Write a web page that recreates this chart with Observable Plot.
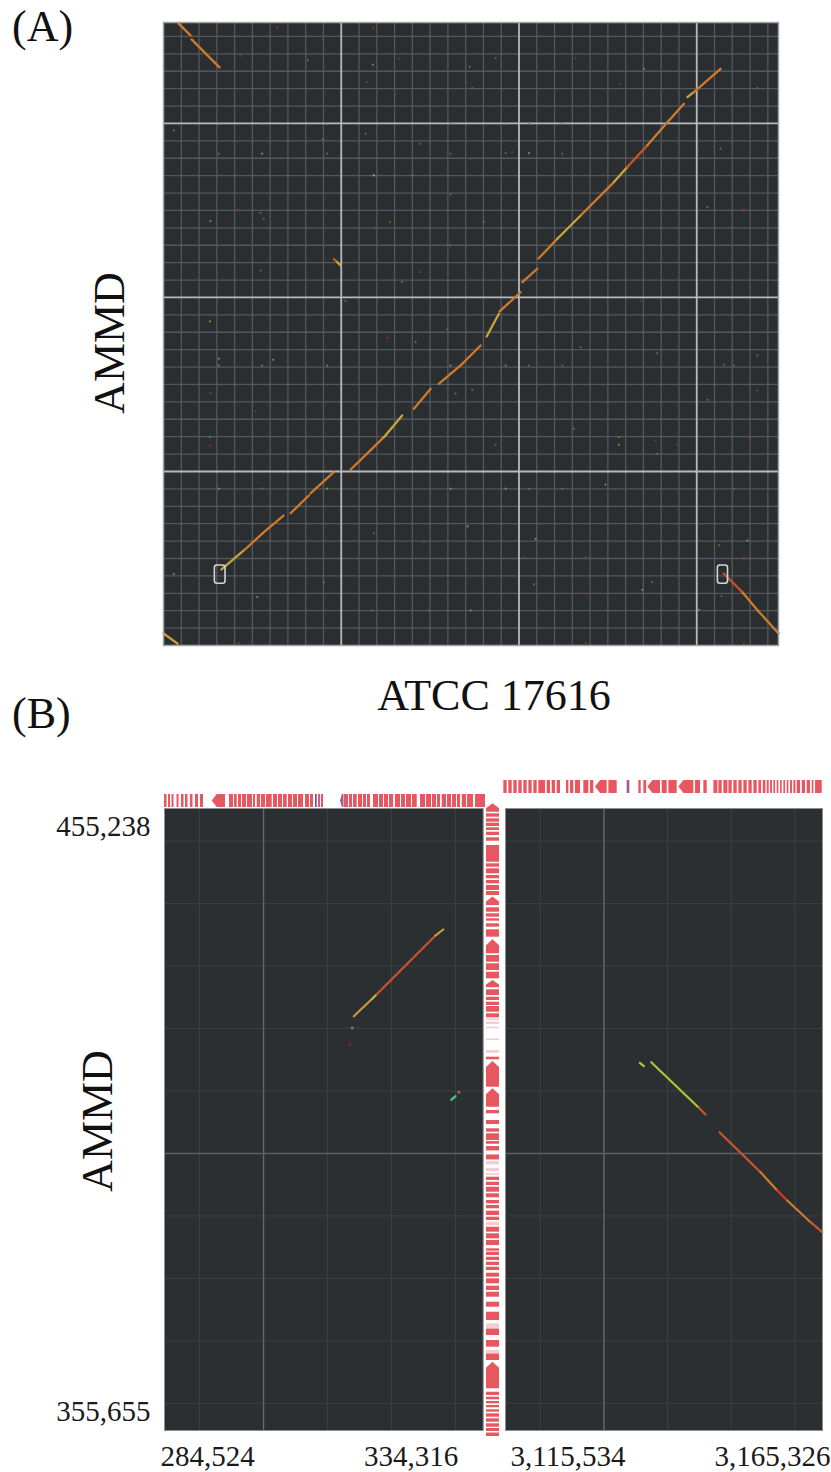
<!DOCTYPE html>
<html><head><meta charset="utf-8">
<script src="https://cdn.jsdelivr.net/npm/d3@7"></script>
<script src="https://cdn.jsdelivr.net/npm/@observablehq/plot@0.6"></script>
<style>
html,body{margin:0;padding:0;background:#fff;}
#fig{position:relative;width:831px;height:1472px;overflow:hidden;font-family:"Liberation Serif","Times New Roman",serif;}
#fig svg{position:absolute;left:0;top:0;}
.lbl{position:absolute;font-size:44px;line-height:1;white-space:nowrap;color:#111;}
</style></head><body><div id="fig"></div>
<script>
// ---------------- Panel A : whole-chromosome dot plot (Mb) ----------------
const aXDomain = [0, 3.46];   // ATCC 17616
const aYDomain = [0, 3.58];   // AMMD
const aXLabel = "ATCC 17616";
const aYLabel = "AMMD";
// alignments [x1, y1, x2, y2, colour key]
const aSegments = [
  [0.084,3.575,0.152,3.506,"o"],[0.158,3.483,0.315,3.322,"o"],
  [0.000,0.069,0.079,0.011,"y"],
  [3.151,0.414,3.258,0.305,"r"],[3.258,0.305,3.343,0.201,"o"],[3.343,0.201,3.461,0.069,"o"],
  [0.958,2.222,0.977,2.203,"r"],[0.977,2.203,0.996,2.184,"y"],
  [0.326,0.437,0.452,0.546,"y"],[0.452,0.546,0.557,0.644,"o"],[0.557,0.644,0.675,0.747,"o"],
  [0.715,0.760,0.818,0.862,"o"],[0.827,0.874,0.958,0.996,"o"],
  [1.052,1.010,1.240,1.197,"o"],[1.240,1.197,1.343,1.322,"y"],
  [1.409,1.360,1.503,1.475,"o"],
  [1.549,1.504,1.681,1.619,"o"],[1.681,1.619,1.784,1.724,"o"],
  [1.818,1.776,1.887,1.906,"y"],[1.891,1.920,2.009,2.030,"o"],[2.019,2.088,2.103,2.165,"o"],
  [2.110,2.224,2.216,2.337,"o"],[2.216,2.337,2.347,2.471,"y"],[2.347,2.471,2.534,2.663,"o"],
  [2.534,2.663,2.609,2.749,"y"],[2.609,2.749,2.722,2.874,"r"],[2.722,2.874,2.835,3.007,"o"],
  [2.835,3.007,2.928,3.113,"o"],
  [2.947,3.151,2.984,3.180,"y"],[2.984,3.180,3.134,3.314,"o"]
];
// short matches [x, y, colour key]
const aDots = [
  [0.311,2.998,"y"],[0.555,2.998,"y"],[0.921,2.998,"y"],[1.615,2.998,"o"],
  [0.311,2.826,"g"],[0.555,2.826,"y"],[0.921,2.826,"g"],[1.615,2.826,"o"],
  [0.058,2.960,"g"],[1.183,2.701,"Y"],[1.446,2.883,"g"],[1.737,3.203,"g"],[1.722,3.324,"o"],[1.178,3.337,"y"],
  [0.420,2.504,"r"],[0.264,2.439,"y"],[0.564,2.452,"o"],[0.546,2.485,"g"],[1.274,2.433,"o"],[1.615,2.592,"o"],
  [1.615,2.299,"o"],[1.442,2.145,"r"],[0.261,1.862,"y"],[0.261,1.902,"r"],[1.597,1.816,"o"],[0.302,3.553,"r"],
  [0.640,3.553,"r"],[1.178,3.550,"r"],[0.433,3.391,"r"],[0.812,3.362,"o"],[1.324,3.372,"r"],[1.306,3.167,"r"],
  [1.146,3.237,"r"],[0.896,3.483,"r"],[0.264,2.801,"r"],[1.728,2.797,"r"],[1.193,2.395,"r"],[0.896,2.908,"o"],
  [1.137,2.941,"o"],[1.400,2.701,"o"],[0.546,2.155,"g"],[1.341,2.088,"g"],[1.024,1.979,"g"],
  [1.868,3.375,"g"],[2.318,3.375,"r"],[3.341,3.203,"g"],[1.925,2.998,"y"],[2.056,2.998,"o"],[2.244,2.998,"o"],
  [1.925,2.829,"o"],[1.962,2.835,"r"],[2.056,2.829,"y"],[2.244,2.826,"o"],[3.134,2.855,"g"],[3.007,2.849,"b"],
  [3.266,2.506,"r"],[3.060,2.519,"g"],[1.802,2.433,"g"],[2.684,1.979,"r"],[2.568,3.228,"r"],[2.703,3.314,"y"],
  [0.311,1.609,"y"],[0.555,1.609,"y"],[0.921,1.609,"y"],[1.615,1.609,"y"],[0.311,1.648,"y"],[0.617,1.642,"y"],
  [0.311,0.901,"y"],[0.555,0.901,"o"],[0.921,0.901,"y"],[1.615,0.901,"y"],[0.264,1.450,"r"],[0.518,1.347,"r"],
  [0.261,1.197,"g"],[0.261,1.149,"r"],[0.058,0.412,"y"],[0.424,0.297,"r"],[0.527,0.278,"y"],[0.902,0.364,"g"],
  [1.465,0.594,"r"],[1.183,0.645,"g"],[0.424,0.013,"r"],[1.709,0.684,"g"],[1.493,0.201,"o"],[1.174,0.201,"o"],
  [1.418,1.743,"g"],[1.259,1.768,"r"],[1.643,1.447,"g"],[1.737,1.470,"g"],
  [1.925,1.609,"y"],[2.056,1.609,"o"],[2.244,1.609,"o"],[3.209,1.609,"o"],[2.347,1.714,"o"],[2.778,1.680,"g"],
  [3.341,1.667,"g"],[3.153,1.613,"g"],[1.925,0.901,"y"],[2.056,0.901,"o"],[2.244,0.901,"o"],[2.487,0.925,"y"],
  [3.209,0.901,"o"],[2.562,1.153,"y"],[2.562,1.197,"g"],[2.769,1.178,"r"],[2.891,1.153,"r"],[3.303,1.197,"r"],
  [1.868,1.153,"g"],[2.309,1.245,"o"],[2.093,0.613,"y"],[3.285,0.603,"y"],[2.375,0.507,"r"],[3.266,0.507,"r"],
  [3.125,0.575,"o"],[2.694,0.320,"y"],[2.084,0.351,"g"],[2.375,0.297,"r"],[3.140,0.283,"g"],[2.375,0.013,"r"],
  [3.266,0.013,"r"],[2.750,0.364,"o"],[3.012,0.205,"y"],[1.728,0.201,"y"],[3.341,1.466,"r"],[3.060,1.412,"g"],
  [2.778,1.102,"o"],[2.024,0.507,"r"],[1.712,0.684,"g"]
];
// zoomed regions [x1, x2, y1, y2]
const aBoxes = [[0.289,0.349,0.355,0.460],[3.119,3.176,0.355,0.460]];

// ---------------- Panel B : zoom on breakpoints (bp) ----------------
const bYDomain = [355655, 455238];
const bLeftXDomain = [284524, 334316];
const bRightXDomain = [3115534, 3165326];
const bYLabel = "AMMD";
const bYTickValues = [455238, 355655];
const bYTickLabels = ["455,238", "355,655"];
const bXTickLabels = ["284,524", "334,316", "3,115,534", "3,165,326"];
const bYGridMinor = [360000,370000,380000,390000,410000,420000,430000,440000,450000];
const bYGridMajor = [400000];
const bLeftGridMinor = [290000,310000,320000,330000];
const bLeftGridMajor = [300000];
const bRightGridMinor = [3121000,3141000,3151000,3161000];
const bRightGridMajor = [3131000];
const bLeftSegments = [
  [314102,421985,316977,424771,"yo"],[316977,424771,317649,425459,"gy"],
  [317649,425459,326867,434905,"or"],[326867,434905,328071,435866,"y"],
  [329321,408601,329993,409177,"c"]
];
const bLeftDots = [[313852,420128,"o"],[313477,417454,"dr"],[330508,409817,"o"]];
const bRightSegments = [
  [3136633,414525,3137261,413980,"gy"],
  [3138423,414621,3145901,407320,"gy"],[3145901,407320,3146954,406247,"or"],
  [3149153,403414,3155595,397010,"or"],[3155595,397010,3158218,394080,"o"],
  [3158218,394080,3159789,392479,"R"],[3159789,392479,3163450,389005,"o"],
  [3163450,389005,3165288,387404,"or"]
];
// genes [start, end, strand, kind]
const bTopLeftGenes = [
  [284524,284915,0],[285149,285462,0],[285696,286008,0],[286477,286790,0],[287180,287571,0],[287805,288196,0],
  [288587,288977,0],[289368,289837,0],[290149,290618,0],[291977,294055,-1],
  [294680,295305,0],[295462,295883,0],[296087,296555,0],[296712,297337,0],[297493,298274,0],[298430,298743,0],
  [299008,299524,0],[299680,300305,0],[300462,301352,0],[301555,302180,0],[302337,302962,0],[303118,303696,0],
  [303899,304524,0],[304680,305305,0],[305462,306243,0],[306555,307180,0],[307337,307805,0],[308118,308383,0,"b"],
  [308587,308899,0],[309055,309368,0],
  [312024,312540,-1,"p"],[312600,313274,0],[313430,313899,0],[314055,314633,0],[314837,315462,0],[315618,316087,0],
  [316243,316712,0],[317180,317962,0],[318118,318743,0],[318899,319524,0],[319680,320305,0],[320618,321399,0],
  [321555,322180,0],[322337,323118,0],[323274,324008,0],[324524,325305,0],[325462,326243,0],[326399,327024,0],
  [327180,327649,0],[327915,328587,0],[328743,329368,0],[329524,330149,0],[330305,330774,0],[331040,331712,0],
  [331868,332805,0],[333118,334680,0]
];
const bTopRightGenes = [
  [3115272,3115796,0],[3116058,3116581,0],[3116843,3117367,0],[3117629,3118152,0],[3118414,3118938,0],
  [3119200,3119723,0],[3119985,3120509,0],[3120771,3121818,0],[3122080,3122604,0],[3122865,3123389,0],
  [3123651,3124175,0],[3125117,3125484,0],[3125745,3126269,0],[3126531,3127317,0],[3127840,3128626,0],
  [3128887,3129411,0],[3129673,3131506,-1],[3131768,3133077,0],[3134648,3135066,0,"p"],
  [3136480,3136847,0],[3137266,3137700,0],[3137900,3139884,-1],[3140146,3140932,0],[3141194,3142503,0],
  [3142765,3145121,-1],[3145383,3146168,0],[3146692,3147216,0],
  [3148263,3148891,0],[3149048,3149572,0],[3149834,3150462,0],[3150620,3151143,0],[3151405,3151929,0],
  [3152191,3152714,0],[3152976,3153500,0],[3153762,3154285,0],[3154547,3155071,0],[3155333,3155752,0],
  [3156013,3156432,0],[3156642,3156956,0],[3157166,3157480,0],[3157689,3157951,0],[3158213,3158475,0],
  [3158737,3158999,0],[3159260,3159522,0],[3159784,3160046,0],[3160308,3160622,0],[3160832,3161146,0],
  [3161355,3161879,0],[3162141,3162665,0],[3162926,3163450,0],[3163712,3163974,0],[3164236,3165283,0]
];
const bSideGenes = [
  [454646,455990,1],[453845,454390,0],[453045,453589,0],[452356,452885,0],[451716,452148,0],[450915,451443,0],
  [450003,450547,0],[446640,449314,0],[445840,446384,0],[444783,445584,0],[443983,444511,0],[443183,443711,0],
  [442110,442910,0],[441309,441950,0],[439708,441069,1],[438636,439340,0],[437835,438380,0],[437195,437579,0],
  [436235,436779,0],[434634,435818,0],[431976,434217,1],[430631,431703,0],[429302,430374,0],[427973,429030,0],
  [426532,427701,1],[425299,426212,0],[424499,425027,0],[423698,424226,0],[422625,423538,0],[421728,422369,0],
  [421296,421568,0,"f"],[420656,421024,0,"f"],[419968,420224,0,"f"],[418095,418368,0,"f"],[416062,416494,0,"f"],
  [415005,415421,0],[410618,414733,1],[407416,410362,1],[406359,406888,0],[404647,405287,0],[403414,403958,0],
  [402085,403157,0],[401485,401917,0],[400412,401117,0],[398972,399773,0],[398172,398716,0,"f"],
  [397121,397602,0,"f"],[396482,396754,0,"f"],[395681,396210,0],[394881,395409,0],[393808,394609,0],
  [392912,393552,0],[391951,392479,0],[391151,391679,0],[390078,390766,0],[389277,389805,0],[388477,389005,0,"f"],
  [387404,388205,0],[386347,387148,0],[385274,386075,0],[384361,384746,0],[383673,384201,0],[382872,383400,0],
  [382072,382600,0],[381272,381800,0],[380199,380839,0],[379142,379943,0],[378069,378758,0],[376996,377797,0],
  [375395,376196,0],[373266,374594,0],[371937,372737,0,"f"],[370864,371900,0],[368991,370064,0],
  [367935,368464,0,"f"],[366863,367900,0],[362332,366591,1],[361259,361787,0],[360571,360987,0],[359930,360299,0],
  [359291,359659,0],[358586,358971,0],[357786,358330,0],[356985,357530,0],[356185,356729,0],[355495,355975,0],
  [354695,355255,0]
];

// ---------------- styling ----------------
const W = 831, H = 1472;
const FONT = "Liberation Serif";
const segPal = {o:"#cd7b2c", y:"#c9a43a", r:"#c8502c", yo:"#c99a36", gy:"#b4c236", or:"#c9552b",
                c:"#3fcb8c", R:"#dc3428", dr:"#7a2a22"};
const dotPal = {y:"#a9a236", Y:"#d8cc3c", o:"#9c6a30", r:"#b03232", g:"#5c8c3a", b:"#4a7aa8",
                dr:"#7a2a22"};
const geneCol = {n:"#e6575f", b:"#4c5ad0", p:"#9a5c9c", f:"#e6575f"};
const fig = document.getElementById("fig");
const base = {width: W, height: H, style: {background: "transparent", overflow: "visible"},
              color: {type: "identity"}};
const add = el => fig.appendChild(el);
const tenths = (n) => d3.range(1, n).filter(i => i % 10 !== 0).map(i => i / 10);

// Panel A
add(Plot.plot({
  ...base,
  marginLeft: 163, marginRight: W - 778, marginTop: 22, marginBottom: H - 645,
  x: {domain: aXDomain, axis: null}, y: {domain: aYDomain, axis: null},
  marks: [
    Plot.frame({fill: "#2b2e30"}),
    Plot.ruleX(tenths(35), {stroke: "#54585c", strokeWidth: 1.3}),
    Plot.ruleY(tenths(36), {stroke: "#54585c", strokeWidth: 1.3}),
    Plot.ruleX([1, 2, 3], {stroke: "#b8babc", strokeWidth: 1.8}),
    Plot.ruleY([1, 2, 3], {stroke: "#b8babc", strokeWidth: 1.8}),
    Plot.dot(aDots, {x: d => d[0], y: d => d[1], fill: d => dotPal[d[2]], r: 1.1, fillOpacity: 0.75, stroke: null}),
    Plot.link(aSegments, {x1: d => d[0], y1: d => d[1], x2: d => d[2], y2: d => d[3],
      stroke: d => segPal[d[4]], strokeWidth: 2.3, strokeLinecap: "round"}),
    Plot.rect(aBoxes, {x1: d => d[0], x2: d => d[1], y1: d => d[2], y2: d => d[3],
      fill: "none", stroke: "#d4d4d4", strokeWidth: 1.6, rx: 2.5}),
    Plot.frame({stroke: "#a2a4a6", strokeWidth: 1.5})
  ]
}));

// gene polygons
function genePoly(genes, head) {
  const pts = [];
  genes.forEach((g, i) => {
    const [s, e, st, k] = g;
    const h = Math.min(head, (e - s) * 0.6);
    const fill = geneCol[k || "n"], faint = k === "f";
    const P = (p, a, b) => pts.push({id: i, p, a, b, fill, faint});
    if (st === 1) { P(s, 0, 1); P(e - h, 0, 1); P(e, 0.5, 0.5); }
    else if (st === -1) { P(s, 0.5, 0.5); P(s + h, 0, 1); P(e, 0, 1); }
    else { P(s, 0, 1); P(e, 0, 1); }
  });
  return pts;
}
const hTrack = (genes, xDomain, left, right, top, bottom) => Plot.plot({
  ...base,
  marginLeft: left, marginRight: W - right, marginTop: top, marginBottom: H - bottom,
  x: {domain: xDomain, axis: null}, y: {domain: [0, 1], axis: null},
  marks: [
    Plot.areaY(genePoly(genes, 800).filter(d => !d.faint), {x: "p", y1: "a", y2: "b", z: "id", fill: "fill", curve: "linear"}),
    Plot.areaY(genePoly(genes, 800).filter(d => d.faint), {x: "p", y1: "a", y2: "b", z: "id", fill: "fill", fillOpacity: 0.3, curve: "linear"})
  ]
});

// Panel B main panels
function bPanel(xDomain, left, right, gridMinor, gridMajor, segs, dots, extra) {
  return Plot.plot({
    ...base,
    marginLeft: left, marginRight: W - right, marginTop: 808, marginBottom: H - 1430,
    x: {domain: xDomain, axis: null}, y: {domain: bYDomain, axis: null},
    marks: [
      Plot.frame({fill: "#2c2f31"}),
      Plot.ruleX(gridMinor, {stroke: "#3c4043", strokeWidth: 1}),
      Plot.ruleY(bYGridMinor, {stroke: "#3c4043", strokeWidth: 1}),
      Plot.ruleX(gridMajor, {stroke: "#64686b", strokeWidth: 1.4}),
      Plot.ruleY(bYGridMajor, {stroke: "#5c6063", strokeWidth: 1.4}),
      Plot.dot(dots, {x: d => d[0], y: d => d[1], fill: d => dotPal[d[2]], r: 1.6, stroke: null}),
      Plot.link(segs, {x1: d => d[0], y1: d => d[1], x2: d => d[2], y2: d => d[3],
        stroke: d => segPal[d[4]], strokeWidth: 2.2, strokeLinecap: "round"}),
      Plot.frame({stroke: "#8c8f92", strokeWidth: 1}),
      ...extra
    ]
  });
}
const xLab = (xd, value, label, anchor, dx) => Plot.text([0], {
  x: () => value, y: () => bYDomain[0], text: () => label, textAnchor: anchor, dx, dy: 35,
  lineAnchor: "bottom", fontSize: 29, fontFamily: FONT, fill: "#1a1a1a"});
const yLab = (i, dy) => Plot.text([i], {
  x: () => bLeftXDomain[0], y: j => bYTickValues[j], text: j => bYTickLabels[j], textAnchor: "end",
  dx: -14, dy, fontSize: 29, fontFamily: FONT, fill: "#1a1a1a"});

add(bPanel(bLeftXDomain, 164, 482.7, bLeftGridMinor, bLeftGridMajor, bLeftSegments, bLeftDots, [
  yLab(0, 18), yLab(1, -19),
  xLab(bLeftXDomain, bLeftXDomain[0], bXTickLabels[0], "start", -4),
  xLab(bLeftXDomain, bLeftXDomain[1], bXTickLabels[1], "end", -25)
]));
add(bPanel(bRightXDomain, 505, 822, bRightGridMinor, bRightGridMajor, bRightSegments, [], [
  xLab(bRightXDomain, bRightXDomain[0], bXTickLabels[2], "start", 5),
  xLab(bRightXDomain, bRightXDomain[1], bXTickLabels[3], "end", 8)
]));

// gene tracks
add(hTrack(bTopLeftGenes, bLeftXDomain, 164, 482.7, 794, 807));
add(hTrack(bTopRightGenes, bRightXDomain, 505, 822, 780, 793));
const sidePts = genePoly(bSideGenes, 950);
add(Plot.plot({
  ...base,
  marginLeft: 486, marginRight: W - 499, marginTop: 808, marginBottom: H - 1430,
  x: {domain: [0, 1], axis: null}, y: {domain: bYDomain, axis: null},
  marks: [
    Plot.areaX(sidePts.filter(d => !d.faint), {y: "p", x1: "a", x2: "b", z: "id", fill: "fill", curve: "linear"}),
    Plot.areaX(sidePts.filter(d => d.faint), {y: "p", x1: "a", x2: "b", z: "id", fill: "fill", fillOpacity: 0.3, curve: "linear"})
  ]
}));

// text labels
function label(text, css) {
  const d = document.createElement("div");
  d.className = "lbl"; d.textContent = text; Object.assign(d.style, css); fig.appendChild(d);
}
label("(A)", {left: "12px", top: "5px"});
label("(B)", {left: "12px", top: "692px"});
label(aXLabel, {left: "494px", top: "674px", transform: "translateX(-50%)"});
label(aYLabel, {left: "110px", top: "343px", transform: "translate(-50%,-50%) rotate(-90deg)"});
label(bYLabel, {left: "98px", top: "1121px", transform: "translate(-50%,-50%) rotate(-90deg)"});
</script></body></html>
